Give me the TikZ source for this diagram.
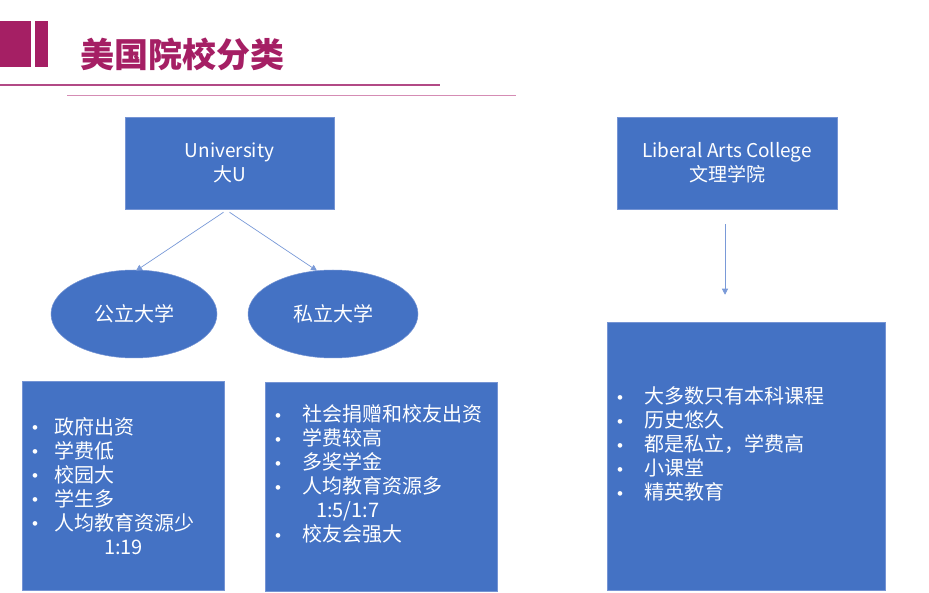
\documentclass[tikz,border=0pt]{standalone}
\usepackage{fontspec}
\setmainfont{Noto Sans CJK SC}
\newfontfamily\bulfont{Liberation Sans}
\usetikzlibrary{shapes.geometric,arrows.meta}
\definecolor{boxblue}{HTML}{4472C4}
\definecolor{edgeblue}{HTML}{7594D4}
\definecolor{arrblue}{HTML}{7A9AD8}
\definecolor{titlered}{HTML}{A51F64}
\definecolor{lineA}{HTML}{B24A86}
\definecolor{lineB}{HTML}{D58CB4}
\newcommand{\mybul}[1][22pt]{\makebox[#1][l]{\bulfont\fontsize{17}{24}\selectfont\raisebox{0.5pt}{•}}}
\begin{document}
\begin{tikzpicture}[x=1pt,y=-1pt,
  box/.style={rectangle,fill=boxblue,draw=edgeblue,line width=0.5pt,inner sep=0pt,text=white,align=center,font=\fontsize{19}{24}\selectfont},
  oval/.style={ellipse,fill=boxblue,draw=edgeblue,line width=0.5pt,inner sep=0pt,text=white,font=\fontsize{20}{24}\selectfont},
  listtxt/.style={anchor=west,inner sep=0pt,text=white,align=left,font=\fontsize{20}{24}\selectfont},
  arr/.style={draw=arrblue,line width=0.7pt,-{Triangle[length=6pt,width=6pt]}}]
\useasboundingbox (0,0) rectangle (929,593);
\fill[white] (0,0) rectangle (929,593);
% title decoration
\fill[titlered] (0,21) rectangle (31,67);
\fill[titlered] (35,21) rectangle (48,67);
\node[anchor=west,inner sep=0pt,text=titlered,font=\fontsize{34}{40}\selectfont\bfseries] (title) at (80,54) {美国院校分类};
\draw[lineA,line width=2pt] (0,85) -- (440,85);
\draw[lineB,line width=1pt] (67,96) -- (516,96);
% top boxes
\node[box,minimum width=209pt,minimum height=92pt] (uni) at (229.5,163) {University\\大U};
\node[box,minimum width=220pt,minimum height=92pt] (lac) at (727,163) {Liberal Arts College\\文理学院};
% ellipses
\node[oval,minimum width=166pt,minimum height=88pt] (pub) at (134,314) {公立大学};
\node[oval,minimum width=170pt,minimum height=88pt] (pri) at (333,314) {私立大学};
% bottom boxes
\node[box,minimum width=202pt,minimum height=209pt] (pubbox) at (123,485.5) {};
\node[box,minimum width=232pt,minimum height=209pt] (pribox) at (381,486.5) {};
\node[box,minimum width=278pt,minimum height=268pt] (lacbox) at (746,456) {};
% lists
\node[listtxt] (publist) at (32,486) {\mybul 政府出资\\ \mybul 学费低\\ \mybul 校园大\\ \mybul 学生多\\ \mybul 人均教育资源少\\ \hspace*{72pt}1:19};
\node[listtxt] (prilist) at (275,474) {\mybul[23pt] 社会捐赠和校友出资\\ \mybul[23pt] 学费较高\\ \mybul[23pt] 多奖学金\\ \mybul[23pt] 人均教育资源多\\ \hspace*{41pt}1:5/1:7\\ \mybul[23pt] 校友会强大};
\node[listtxt] (laclist) at (617,444) {\mybul[23pt] 大多数只有本科课程\\ \mybul[23pt] 历史悠久\\ \mybul[23pt] 都是私立，学费高\\ \mybul[23pt] 小课堂\\ \mybul[23pt] 精英教育};
% connectors
\draw[arr] ([xshift=-6pt,yshift=-3pt]uni.south) -- ([xshift=2pt,yshift=-1pt]pub.north);
\draw[arr] ([xshift=0pt,yshift=-3pt]uni.south) -- ([xshift=-16pt,yshift=-1pt]pri.north);
\draw[arr] ([xshift=-2pt,yshift=-15pt]lac.south) -- ([xshift=-21pt,yshift=27pt]lacbox.north);
\end{tikzpicture}
\end{document}
